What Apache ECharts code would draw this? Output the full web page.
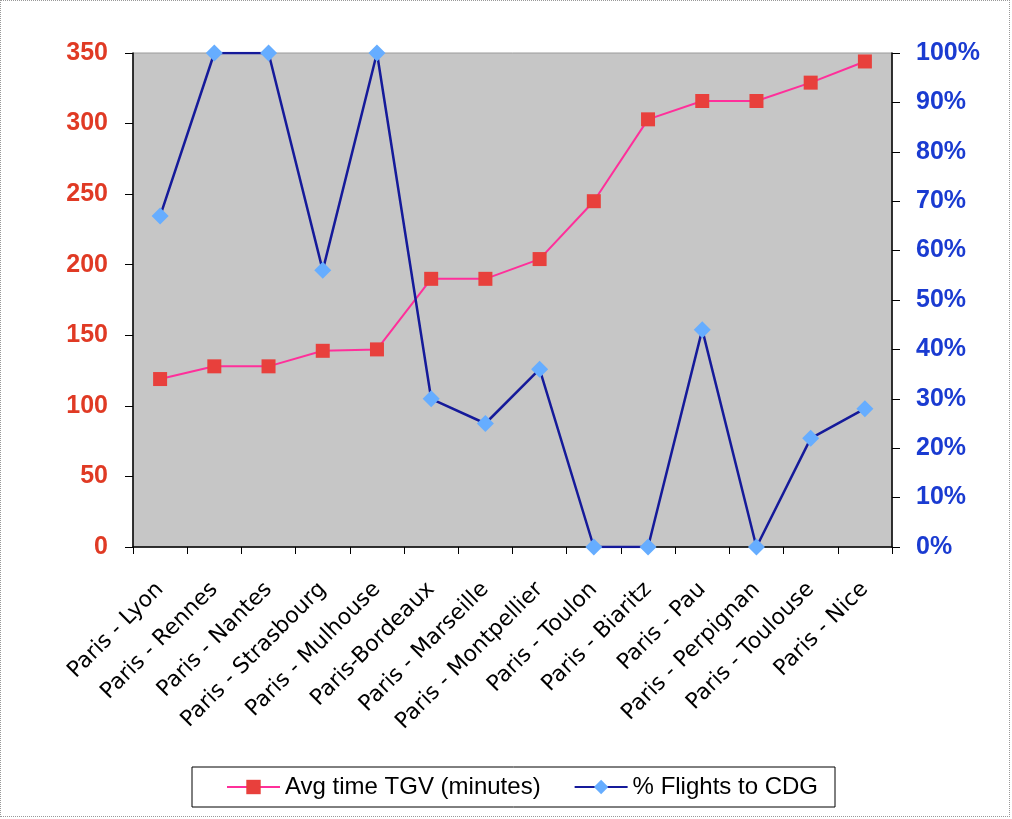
<!DOCTYPE html>
<html>
<head>
<meta charset="utf-8">
<script src="https://cdn.jsdelivr.net/npm/echarts@6/dist/echarts.min.js"></script>
<style>
html,body{margin:0;padding:0;background:#fff;}
#frame{position:absolute;left:0;top:0;width:1008px;height:815px;border:1px dotted #999;}
#chart{position:absolute;left:0;top:0;width:1012px;height:819px;}
</style>
</head>
<body>
<div id="frame"></div>
<div id="chart"></div>
<script>
const categories = ["Paris - Lyon","Paris - Rennes","Paris - Nantes","Paris - Strasbourg","Paris - Mulhouse","Paris-Bordeaux","Paris - Marseille","Paris - Montpellier","Paris - Toulon","Paris - Biaritz","Paris - Pau","Paris - Perpignan","Paris - Toulouse","Paris - Nice"];
const tgvMinutes = [119,128,128,139,140,190,190,204,245,303,316,316,329,344];
const flightsCDG = [67,100,100,56,100,30,25,36,0,0,44,0,22,28];

const chart = echarts.init(document.getElementById('chart'));
chart.setOption({
  animation:false,
  grid:{left:133,right:120,top:53,bottom:272,show:true,backgroundColor:'#c6c6c6',borderColor:'#9a9a9a',borderWidth:1},
  legend:{
    bottom:12,left:192,
    data:['Avg time TGV (minutes)','% Flights to CDG'],
    borderColor:'#000',borderWidth:1,padding:[8,17,8,34],
    itemWidth:53,itemHeight:18,itemGap:33,
    textStyle:{fontFamily:'Liberation Sans, Arial',fontSize:24,color:'#000'}
  },
  xAxis:{
    type:'category',data:categories,boundaryGap:true,
    axisLine:{lineStyle:{color:'#000',width:1.5}},
    axisTick:{show:true,length:7,lineStyle:{color:'#000'}},
    axisLabel:{rotate:45,interval:0,margin:39,fontFamily:'DejaVu Sans',fontSize:22,color:'#000'}
  },
  yAxis:[
    {type:'value',min:0,max:350,interval:50,position:'left',
     axisLine:{show:true,lineStyle:{color:'#000',width:1.5}},
     axisTick:{show:true,length:8,lineStyle:{color:'#000'}},
     splitLine:{show:false},
     axisLabel:{margin:25,padding:[6,0,0,0],fontFamily:'Liberation Sans, Arial',fontWeight:'bold',fontSize:25,color:'#e03a24'}},
    {type:'value',min:0,max:100,interval:10,position:'right',
     axisLine:{show:true,lineStyle:{color:'#000',width:1.5}},
     axisTick:{show:true,length:8,lineStyle:{color:'#000'}},
     splitLine:{show:false},
     axisLabel:{margin:24,padding:[6,0,0,0],formatter:'{value}%',fontFamily:'Liberation Sans, Arial',fontWeight:'bold',fontSize:25,color:'#1a3bd1'}}
  ],
  series:[
    {name:'Avg time TGV (minutes)',type:'line',yAxisIndex:0,data:tgvMinutes,
     symbol:'rect',symbolSize:14,
     lineStyle:{color:'#ff2f9a',width:2},
     itemStyle:{color:'#e8403c'}},
    {name:'% Flights to CDG',type:'line',yAxisIndex:1,data:flightsCDG,
     symbol:'diamond',symbolSize:17,
     lineStyle:{color:'#151a9a',width:2.5},
     itemStyle:{color:'#66adff'}}
  ]
});
</script>
</body>
</html>
